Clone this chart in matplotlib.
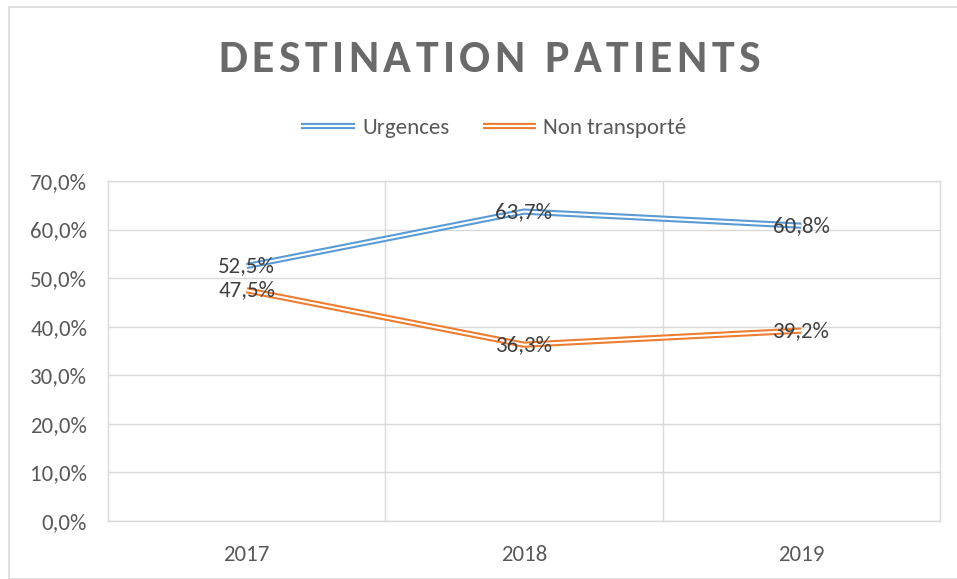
import matplotlib
matplotlib.use("Agg")
import matplotlib.pyplot as plt
from matplotlib.lines import Line2D
from matplotlib.patches import Rectangle
from matplotlib.legend_handler import HandlerTuple

years = ["2017", "2018", "2019"]
urgences = [52.5, 63.7, 60.8]
non_transporte = [47.5, 36.3, 39.2]
yticks = [0, 10, 20, 30, 40, 50, 60, 70]
title = "DESTINATION PATIENTS"

blue = "#5b9bd5"
orange = "#ed7d31"
grid_c = "#d9d9d9"
txt = "#595959"
lbl = "#404040"
FONT = ["Carlito", "Open Sans", "DejaVu Sans"]
plt.rcParams["font.family"] = FONT
FS = 16.5

W, H = 957, 579
fig = plt.figure(figsize=(W / 100, H / 100), dpi=100)
ax = fig.add_axes([108 / W, 1 - 521 / H, (940 - 108) / W, (521 - 181) / H])

x = list(range(len(years)))
for vals, col in [(urgences, blue), (non_transporte, orange)]:
    ax.plot(x, vals, color=col, lw=4.5, solid_capstyle="butt", solid_joinstyle="miter", zorder=3)
    ax.plot(x, vals, color="white", lw=1.5, solid_capstyle="butt", solid_joinstyle="miter", zorder=4)
    for xi, v in zip(x, vals):
        ax.text(xi, v, f"{v:.1f}%".replace(".", ","), ha="center", va="center",
                fontsize=FS, color=lbl, zorder=5)

ax.set_xlim(-0.5, len(years) - 0.5)
ax.set_ylim(0, 70)
ax.set_yticks(yticks)
ax.set_yticklabels([f"{t:.1f}%".replace(".", ",") for t in yticks])
ax.set_xticks(x)
ax.set_xticklabels(years)
ax.tick_params(axis="both", length=0, colors=txt, labelsize=FS)
ax.tick_params(axis="y", pad=15)
ax.tick_params(axis="x", pad=17)
ax.grid(axis="y", color=grid_c, lw=1)
for b in [0.5, 1.5]:
    ax.axvline(b, color=grid_c, lw=1, zorder=1)
ax.set_axisbelow(True)
for s in ax.spines.values():
    s.set_color(grid_c)
    s.set_linewidth(1)

# outer chart border
fig.patches.append(Rectangle((9 / W, 0), 1.5, 1 - 7 / H, transform=fig.transFigure,
                             fill=False, edgecolor=grid_c, lw=1.2))

# title with letter spacing (each character is real text)
renderer = fig.canvas.get_renderer()
tsize = 33
chars = []
widths = []
for ch in title:
    t = fig.text(0, 0, ch, fontsize=tsize, fontweight="bold", color="#6a6a6a",
                 ha="left", va="center")
    chars.append(t)
    widths.append(t.get_window_extent(renderer).width if ch != " " else None)
space_w = fig.text(0, 0, "a a", fontsize=tsize, fontweight="bold").get_window_extent(renderer).width - \
          fig.text(0, 0, "aa", fontsize=tsize, fontweight="bold").get_window_extent(renderer).width
for t in fig.texts[len(chars):]:
    t.remove()
widths = [w if w is not None else space_w for w in widths]
target_w = 760 - 218
gap = (target_w - sum(widths)) / (len(title) - 1)
cx = 218
for t, w in zip(chars, widths):
    t.set_position((cx / W, 1 - 59 / H))
    cx += w + gap

handles = []
for col in [blue, orange]:
    handles.append((Line2D([], [], color=col, lw=4.5, solid_capstyle="butt"),
                    Line2D([], [], color="white", lw=1.5, solid_capstyle="butt")))
leg = fig.legend(handles, ["Urgences", "Non transporté"], loc="center",
                 bbox_to_anchor=(494 / W, 1 - 128 / H), ncol=2, frameon=False,
                 handler_map={tuple: HandlerTuple(ndivide=1)}, fontsize=FS,
                 handlelength=2.35, handletextpad=0.3, columnspacing=1.45)
for t in leg.get_texts():
    t.set_color(txt)

fig.savefig("out.png", dpi=100)
